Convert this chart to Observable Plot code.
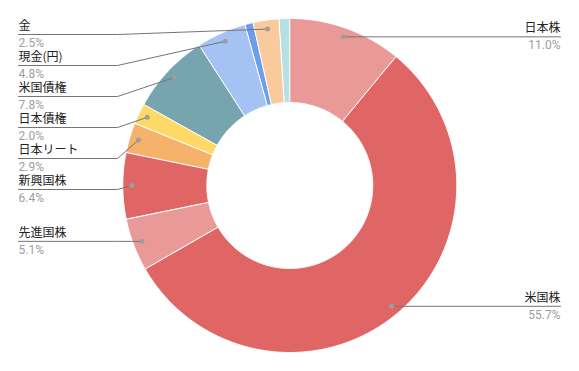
<!DOCTYPE html>
<html>
<head>
<meta charset="utf-8">
<script src="https://cdn.jsdelivr.net/npm/d3@7"></script>
<script src="https://cdn.jsdelivr.net/npm/@observablehq/plot@0.6"></script>
<style>
  html, body { margin: 0; padding: 0; background: #fff; }
  #chart svg { display: block; }
</style>
</head>
<body>
<div id="chart"></div>
<script>
// ---- data (clockwise from 12 o'clock) ----
const categories = ["日本株", "米国株", "先進国株", "新興国株", "日本リート", "日本債権", "米国債権", "現金(円)", "", "金", ""];
const shares = [11.0, 55.7, 5.1, 6.4, 2.9, 2.0, 7.8, 4.8, 0.8, 2.5, 1.0];
const palette = ["#ea9999", "#e06666", "#ea9999", "#e06666", "#f6b26b", "#ffd966", "#76a5af", "#a4c2f4", "#6d9eeb", "#f9cb9c", "#b4e1e5"];

// ---- layout ----
const W = 579, H = 371;
const cx = 289.3, cy = 185, R = 167, r0 = 83, rDot = 158;
const leftEnd = 18, leftElbow = 117, rightEnd = 560, rightElbow = W - 117;
const gap = 31, minY = 34;

const rows = categories.map((name, i) => ({i, name, share: shares[i]}));
const arcs = d3.pie().sort(null).value(d => d.share)(rows);

const px = (a, r) => cx + r * Math.sin(a);
const py = (a, r) => cy - r * Math.cos(a);

// slice polygons
const poly = [];
for (const a of arcs) {
  const n = Math.max(2, Math.ceil((a.endAngle - a.startAngle) / (Math.PI / 360)));
  for (let k = 0; k <= n; k++) {
    const t = a.startAngle + (a.endAngle - a.startAngle) * k / n;
    poly.push({i: a.data.i, x: px(t, R), y: py(t, R)});
  }
  for (let k = n; k >= 0; k--) {
    const t = a.startAngle + (a.endAngle - a.startAngle) * k / n;
    poly.push({i: a.data.i, x: px(t, r0), y: py(t, r0)});
  }
}

// labels
const labeled = arcs.filter(a => a.data.name !== "").map(a => {
  const m = (a.startAngle + a.endAngle) / 2;
  return {i: a.data.i, name: a.data.name, share: a.data.share, dx: px(m, rDot), dy: py(m, rDot), right: Math.sin(m) > 0};
});
for (const side of [true, false]) {
  const list = labeled.filter(d => d.right === side).sort((a, b) => a.dy - b.dy);
  let prev = minY - gap;
  for (const d of list) { d.ly = Math.max(d.dy, prev + gap); prev = d.ly; }
}
const leaders = [];
for (const d of labeled) {
  leaders.push({k: d.i, x: d.dx, y: d.dy});
  leaders.push({k: d.i, x: d.right ? rightElbow : leftElbow, y: d.ly});
  leaders.push({k: d.i, x: d.right ? rightEnd : leftEnd, y: d.ly});
}
const fmt = v => d3.format(".1f")(v) + "%";
const leftLabels = labeled.filter(d => !d.right);
const rightLabels = labeled.filter(d => d.right);

const nameStyle = {fontSize: 12, fill: "#212121", fontFamily: "'Noto Sans CJK JP', 'Noto Sans', sans-serif"};
const pctStyle = {fontSize: 12, fill: "#9e9e9e", fontFamily: "Roboto, 'Noto Sans', sans-serif", letterSpacing: "0.9px"};

const chart = Plot.plot({
  width: W, height: H, margin: 0,
  x: {domain: [0, W], range: [0, W], axis: null},
  y: {domain: [0, H], range: [0, H], axis: null},
  color: {type: "ordinal", domain: d3.range(categories.length), range: palette},
  marks: [
    Plot.line(poly, {x: "x", y: "y", z: "i", fill: "i", stroke: "#ffffff", strokeWidth: 1, curve: "linear-closed"}),
    Plot.line(leaders, {x: "x", y: "y", z: "k", stroke: "#757575", strokeWidth: 1}),
    Plot.dot(labeled, {x: "dx", y: "dy", r: 2.5, fill: "#9e9e9e", stroke: null}),
    Plot.text(leftLabels, {x: () => leftEnd, y: d => d.ly - 8.5, text: "name", textAnchor: "start", ...nameStyle}),
    Plot.text(leftLabels, {x: () => leftEnd, y: d => d.ly + 8.5, text: d => fmt(d.share), textAnchor: "start", ...pctStyle}),
    Plot.text(rightLabels, {x: () => rightEnd, y: d => d.ly - 8.5, text: "name", textAnchor: "end", ...nameStyle}),
    Plot.text(rightLabels, {x: () => rightEnd, y: d => d.ly + 8.5, text: d => fmt(d.share), textAnchor: "end", ...pctStyle})
  ]
});
document.getElementById("chart").appendChild(chart);
</script>
</body>
</html>
